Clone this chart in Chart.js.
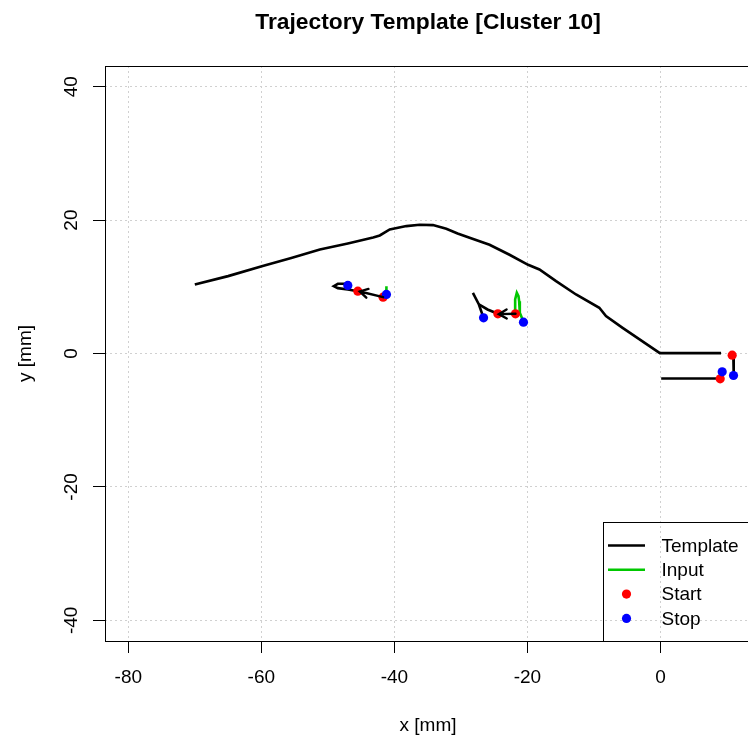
<!DOCTYPE html>
<html>
<head>
<meta charset="utf-8">
<script src="https://cdn.jsdelivr.net/npm/chart.js@4"></script>
<style>
  html, body { margin: 0; padding: 0; background: #fff; overflow: hidden; width: 748px; height: 738px; }
  #wrap { width: 857px; height: 738px; }
</style>
</head>
<body>
<div id="wrap"><canvas id="c" width="857" height="738"></canvas></div>
<script>
// Axis ranges and tick values (mm)
const xRange = [-83.5, 13.6];
const yRange = [-43.1, 43.1];
const xTicks = [-80, -60, -40, -20, 0];
const yTicks = [-40, -20, 0, 20, 40];

const chartTitle = 'Trajectory Template [Cluster 10]';

// Template strokes, [x, y] in mm
const templateMain = [
  [-70.0, 10.35], [-65.0, 11.6], [-59.8, 13.1], [-55.5, 14.3], [-51.2, 15.6],
  [-47.0, 16.5], [-43.2, 17.4], [-42.2, 17.7], [-40.7, 18.6], [-38.2, 19.1],
  [-36.2, 19.3], [-34.2, 19.25], [-32.2, 18.7], [-30.5, 18.0], [-28.7, 17.35],
  [-25.7, 16.3], [-22.7, 14.8], [-19.9, 13.3], [-18.2, 12.6], [-15.7, 10.85],
  [-12.7, 8.85], [-9.2, 6.85], [-8.2, 5.6], [-5.7, 3.85], [-0.1, 0.05],
  [9.1, 0.05]
];
const templateLow = [[0.1, -3.75], [8.9, -3.75]];
const templateLoop = [
  [-45.5, 9.34], [-47.0, 9.6], [-48.5, 9.8], [-49.1, 10.1], [-48.5, 10.45],
  [-47.5, 10.45], [-47.0, 10.2]
];
const templateHookA = [[-28.2, 9.1], [-27.3, 7.35], [-26.6, 5.35]];
const templateHookB = [[-27.3, 7.35], [-26.0, 6.6], [-24.45, 5.95]];
const templateRight = [[10.95, -0.3], [11.0, -3.3]];

// Input strokes
const inputLeft = [[-41.4, 8.6], [-41.25, 9.4], [-41.2, 10.1]];
const inputMid = [
  [-21.8, 5.95], [-21.85, 8.1], [-21.6, 9.1], [-21.35, 8.6],
  [-21.25, 7.85], [-21.15, 6.1], [-20.6, 4.75]
];

// Start / stop points
const startPts = [[-45.5, 9.34], [-41.7, 8.44], [-24.45, 5.95], [-21.8, 5.95], [10.77, -0.25], [8.97, -3.79]];
const stopPts  = [[-47.0, 10.2], [-41.2, 8.85], [-26.6, 5.35], [-20.6, 4.7], [10.97, -3.3], [9.27, -2.74]];

// Direction arrows: [fromX, fromY, toX, toY]
const arrows = [[-41.7, 8.44, -45.2, 9.3], [-21.8, 5.95, -24.3, 5.9]];

// Legend entries
const legendLabels = ['Template', 'Input', 'Start', 'Stop'];

const FONT = "'Liberation Sans', Arial, sans-serif";
const BLACK = '#000000', GREEN = '#00c800', RED = '#ff0000', BLUE = '#0000ff';

const pts = arr => arr.map(p => ({ x: p[0], y: p[1] }));
const lineSet = (label, arr, color) => ({
  label, data: pts(arr), showLine: true, borderColor: color, borderWidth: 2.6,
  pointRadius: 0, pointHoverRadius: 0, tension: 0, fill: false, order: label === 'Template' ? 5 : 4
});
const dotSet = (label, arr, color, order) => ({
  label, data: pts(arr), showLine: false, pointRadius: 4.6, pointHoverRadius: 4.6,
  pointBackgroundColor: color, pointBorderColor: color, pointBorderWidth: 0, order
});

// Title, frame, rotated y tick labels, arrows and legend box
const extras = {
  id: 'extras',
  afterDatasetsDraw(chart) {
    const { ctx, chartArea: a, scales: { x, y } } = chart;
    ctx.save();
    // arrows
    ctx.strokeStyle = BLACK; ctx.lineWidth = 2.4; ctx.lineCap = 'round';
    arrows.forEach(ar => {
      const x0 = x.getPixelForValue(ar[0]), y0 = y.getPixelForValue(ar[1]);
      const x1 = x.getPixelForValue(ar[2]), y1 = y.getPixelForValue(ar[3]);
      const ang = Math.atan2(y1 - y0, x1 - x0), hl = 9, ha = Math.PI / 6;
      ctx.beginPath();
      ctx.moveTo(x0, y0); ctx.lineTo(x1, y1);
      ctx.moveTo(x1 - hl * Math.cos(ang - ha), y1 - hl * Math.sin(ang - ha));
      ctx.lineTo(x1, y1);
      ctx.lineTo(x1 - hl * Math.cos(ang + ha), y1 - hl * Math.sin(ang + ha));
      ctx.stroke();
    });
    // plot frame
    ctx.lineCap = 'butt';
    ctx.lineWidth = 1; ctx.strokeStyle = BLACK;
    ctx.strokeRect(a.left + 0.5, a.top + 0.5, a.right - a.left - 1, a.bottom - a.top);
    // title, centred over the plot region
    ctx.fillStyle = BLACK;
    ctx.font = 'bold 22.8px ' + FONT;
    ctx.textAlign = 'center'; ctx.textBaseline = 'alphabetic';
    ctx.fillText(chartTitle, (a.left + a.right) / 2, 29);
    // y tick labels, rotated as in base graphics
    ctx.font = '19px ' + FONT;
    y.ticks.forEach(t => {
      ctx.save();
      ctx.translate(a.left - 28, y.getPixelForValue(t.value));
      ctx.rotate(-Math.PI / 2);
      ctx.fillText(String(t.value), 0, 0);
      ctx.restore();
    });
    // legend (transparent background, bottom-right)
    const lw = 148, lh = 119;
    const lx = a.right - lw, ly = a.bottom - lh;
    ctx.strokeRect(lx + 0.5, ly + 0.5, lw, lh);
    const styles = [
      { kind: 'line', color: BLACK }, { kind: 'line', color: GREEN },
      { kind: 'dot', color: RED }, { kind: 'dot', color: BLUE }
    ];
    ctx.textAlign = 'left'; ctx.textBaseline = 'middle';
    legendLabels.forEach((lab, i) => {
      const cy = ly + 23.5 + i * 24.3;
      const s = styles[i];
      if (s.kind === 'line') {
        ctx.strokeStyle = s.color; ctx.lineWidth = 2.6;
        ctx.beginPath(); ctx.moveTo(lx + 5, cy); ctx.lineTo(lx + 42, cy); ctx.stroke();
      } else {
        ctx.fillStyle = s.color;
        ctx.beginPath(); ctx.arc(lx + 23.5, cy, 4.6, 0, Math.PI * 2); ctx.fill();
      }
      ctx.fillStyle = BLACK;
      ctx.fillText(lab, lx + 58.5, cy + 1);
    });
    ctx.restore();
  }
};

new Chart(document.getElementById('c'), {
  type: 'scatter',
  data: {
    datasets: [
      lineSet('Template', templateMain, BLACK),
      lineSet('Template', templateLow, BLACK),
      lineSet('Template', templateLoop, BLACK),
      lineSet('Template', templateHookA, BLACK),
      lineSet('Template', templateHookB, BLACK),
      lineSet('Template', templateRight, BLACK),
      lineSet('Input', inputLeft, GREEN),
      lineSet('Input', inputMid, GREEN),
      dotSet('Start', startPts, RED, 2),
      dotSet('Stop', stopPts, BLUE, 1)
    ]
  },
  options: {
    responsive: false,
    animation: false,
    events: [],
    layout: { padding: { left: 0, right: 106, top: 66, bottom: 0 } },
    plugins: {
      legend: { display: false },
      tooltip: { enabled: false },
      title: { display: false }
    },
    scales: {
      x: {
        type: 'linear', position: 'bottom',
        min: xRange[0], max: xRange[1],
        afterBuildTicks: s => { s.ticks = xTicks.map(v => ({ value: v })); },
        afterFit: s => { s.height = 97; },
        grid: { color: '#d0d0d0', lineWidth: 1, tickColor: BLACK, tickLength: 12, tickWidth: 1 },
        border: { display: false, dash: [2, 3] },
        ticks: { color: BLACK, font: { family: FONT, size: 19 }, padding: 13, maxRotation: 0, autoSkip: false },
        title: { display: true, text: 'x [mm]', color: BLACK, font: { family: FONT, size: 19 }, padding: { top: 0, bottom: 1 } }
      },
      y: {
        type: 'linear', position: 'left',
        min: yRange[0], max: yRange[1],
        afterBuildTicks: s => { s.ticks = yTicks.map(v => ({ value: v })); },
        afterFit: s => { s.width = 105; },
        grid: { color: '#d0d0d0', lineWidth: 1, tickColor: BLACK, tickLength: 12, tickWidth: 1 },
        border: { display: false, dash: [2, 3] },
        ticks: { display: false },
        title: { display: true, text: 'y [mm]', color: BLACK, font: { family: FONT, size: 19 }, padding: { top: 14, bottom: 0 } }
      }
    }
  },
  plugins: [extras]
});
</script>
</body>
</html>
